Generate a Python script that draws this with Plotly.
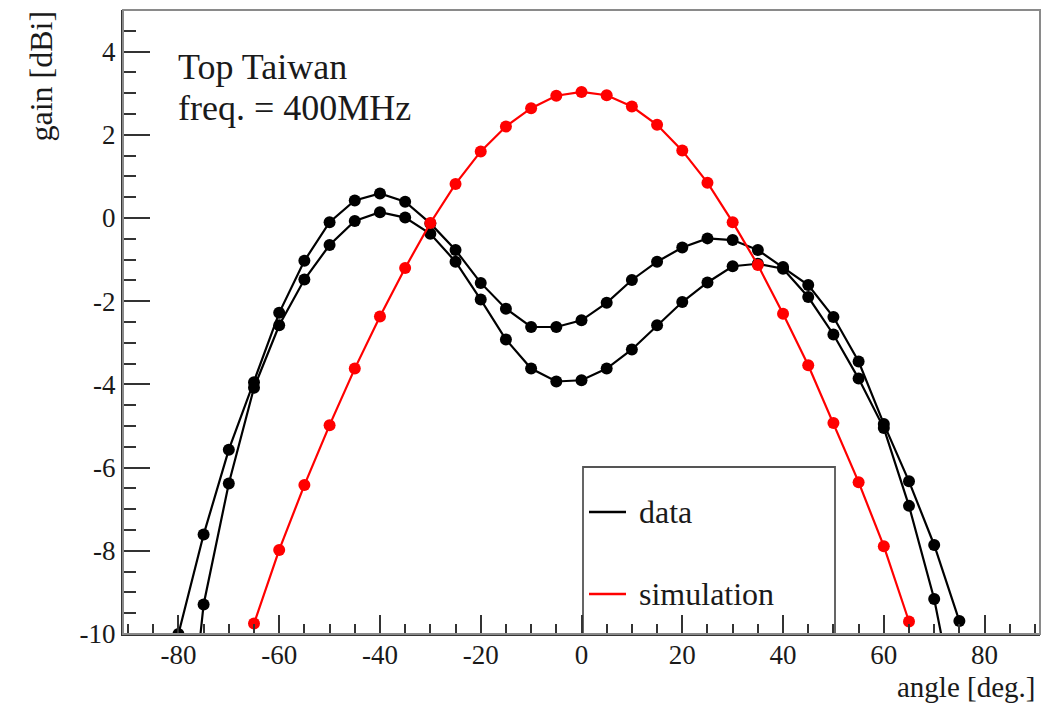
import plotly.graph_objects as go

angle_data = [-80, -75, -70, -65, -60, -55, -50, -45, -40, -35, -30, -25, -20, -15, -10, -5,
              0, 5, 10, 15, 20, 25, 30, 35, 40, 45, 50, 55, 60, 65, 70, 75]
gain_data_a = [-10.0, -7.61, -5.57, -3.95, -2.28, -1.03, -0.10, 0.42, 0.59, 0.39, -0.13, -0.77,
               -1.56, -2.18, -2.62, -2.62, -2.46, -2.04, -1.49, -1.05, -0.71, -0.49, -0.53, -0.77,
               -1.18, -1.61, -2.38, -3.45, -4.95, -6.33, -7.86, -9.69]
gain_data_b = [-15.0, -9.29, -6.38, -4.08, -2.58, -1.48, -0.65, -0.07, 0.14, 0.01, -0.38, -1.05,
               -1.96, -2.92, -3.62, -3.93, -3.90, -3.62, -3.16, -2.58, -2.02, -1.55, -1.16, -1.10,
               -1.22, -1.90, -2.80, -3.86, -5.05, -6.92, -9.16, -12.2]

angle_sim = [-65, -60, -55, -50, -45, -40, -35, -30, -25, -20, -15, -10, -5, 0,
             5, 10, 15, 20, 25, 30, 35, 40, 45, 50, 55, 60, 65]
gain_sim = [-9.75, -7.98, -6.42, -4.98, -3.62, -2.37, -1.20, -0.12, 0.82, 1.60, 2.20, 2.64, 2.94, 3.03,
            2.95, 2.68, 2.24, 1.62, 0.85, -0.10, -1.13, -2.30, -3.54, -4.93, -6.35, -7.89, -9.70]

x_ticks = [-80, -60, -40, -20, 0, 20, 40, 60, 80]
x_ticklabels = ["-80", "-60", "-40", "-20", "0", "20", "40", "60", "80"]
y_ticks = [-10, -8, -6, -4, -2, 0, 2, 4]
y_ticklabels = ["-10", "-8", "-6", "-4", "-2", "0", "2", "4"]

legend_labels = ["data", "simulation"]
legend_colors = ["black", "#ff0000"]

FONT = "Liberation Serif"
TXT = "#1a1a1a"

# plot-area geometry in pixels (for placing paper-referenced decorations)
L, R, T, B = 123, 1040, 10, 634
W, H = R - L, B - T


def px(xp):
    return (xp - L) / W


def py(yp):
    return (B - yp) / H


fig = go.Figure()
for ys in (gain_data_a, gain_data_b):
    fig.add_trace(go.Scatter(x=angle_data, y=ys, mode="lines+markers", name="data",
                             showlegend=False, line=dict(color="black", width=2.2),
                             marker=dict(color="black", size=12, symbol="circle")))
fig.add_trace(go.Scatter(x=angle_sim, y=gain_sim, mode="lines+markers", name="simulation",
                         showlegend=False, line=dict(color="#ff0000", width=2.2),
                         marker=dict(color="#ff0000", size=12, symbol="circle")))

axis_common = dict(showgrid=False, zeroline=False, ticks="inside", showline=True,
                   linecolor="#333333", linewidth=2, tickcolor="#333333",
                   tickfont=dict(family=FONT, size=27, color=TXT))

fig.update_xaxes(range=[-91, 91], tickvals=x_ticks, ticktext=x_ticklabels,
                 ticklen=19, tickwidth=2, ticklabelstandoff=-4,
                 minor=dict(dtick=5, tick0=0, ticklen=10, ticks="inside", tickcolor="#333333", tickwidth=2),
                 **axis_common)
fig.update_yaxes(range=[-10, 5], tickvals=y_ticks, ticktext=y_ticklabels,
                 ticklen=27, tickwidth=2, ticklabelstandoff=0,
                 minor=dict(dtick=0.5, tick0=0, ticklen=13, ticks="inside", tickcolor="#333333", tickwidth=2),
                 **axis_common)

shapes = [
    # frame (top/right)
    dict(type="rect", xref="paper", yref="paper", x0=0, x1=1, y0=0, y1=1,
         line=dict(color="#8a8a8a", width=2), layer="above"),
    # legend box
    dict(type="rect", xref="paper", yref="paper", x0=px(583), x1=px(835), y0=py(634), y1=py(467),
         line=dict(color="#555555", width=1.8), fillcolor="rgba(0,0,0,0)", layer="below"),
]
annotations = [
    dict(text="Top Taiwan", xref="paper", yref="paper", x=px(176), y=py(67),
         xanchor="left", yanchor="middle", showarrow=False,
         font=dict(family=FONT, size=36, color=TXT)),
    dict(text="freq. = 400MHz", xref="paper", yref="paper", x=px(176), y=py(108),
         xanchor="left", yanchor="middle", showarrow=False,
         font=dict(family=FONT, size=36, color=TXT)),
    dict(text="gain [dBi]", xref="paper", yref="paper", x=px(40), y=py(9),
         xanchor="center", yanchor="top", textangle=-90, showarrow=False,
         font=dict(family=FONT, size=32, color=TXT)),
    dict(text="angle [deg.]", xref="paper", yref="paper", x=px(1038), y=py(687),
         xanchor="right", yanchor="middle", showarrow=False,
         font=dict(family=FONT, size=29, color=TXT)),
]
for i, (lab, col) in enumerate(zip(legend_labels, legend_colors)):
    yy = [512, 594][i]
    shapes.append(dict(type="line", xref="paper", yref="paper", x0=px(589), x1=px(626),
                       y0=py(yy), y1=py(yy), line=dict(color=col, width=2.5)))
    annotations.append(dict(text=lab, xref="paper", yref="paper", x=px(637), y=py(yy),
                            xanchor="left", yanchor="middle", showarrow=False,
                            font=dict(family=FONT, size=32, color=TXT)))

fig.update_layout(
    width=1052, height=707,
    margin=dict(l=L, r=1052 - R, t=T, b=707 - B),
    paper_bgcolor="white", plot_bgcolor="white",
    font=dict(family=FONT, color=TXT),
    showlegend=False,
    shapes=shapes,
    annotations=annotations,
)

fig.write_html("out.html")
